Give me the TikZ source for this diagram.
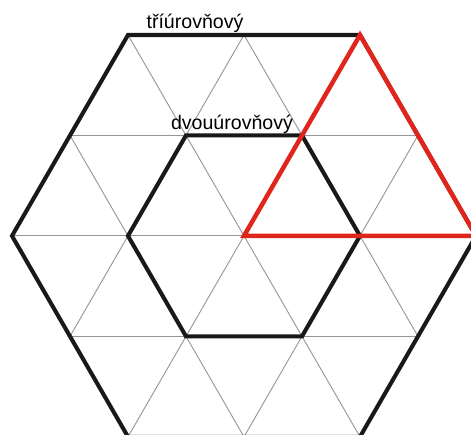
\documentclass[tikz,border=0pt]{standalone}
\usepackage{fontspec}
\setmainfont{Liberation Sans}
\usetikzlibrary{calc}
\definecolor{trired}{RGB}{224,38,28}
\definecolor{gridgray}{RGB}{150,150,150}

\begin{document}
\begin{tikzpicture}[
  gridline/.style={draw=gridgray, line width=0.45pt},
  hexa/.style={draw=black!90, line width=2pt},
  tri/.style={draw=trired, line width=2.2pt},
  lbl/.style={font=\fontsize{9.6}{11}\selectfont, anchor=base, inner sep=0pt},
]
\clip (-4.207,-3.433) rectangle (3.914,4.067);
% corners: outer hexagon (A) and inner hexagon (B)
\coordinate (o) at (0,0);
\foreach \a in {0,60,...,300} {
  \coordinate (A\a) at (\a:4);
  \coordinate (B\a) at (\a:2);
}
% thin triangle grid
\begin{scope}
  \clip (A0) -- (A60) -- (A120) -- (A180) -- (A240) -- (A300) -- cycle;
  \foreach \k in {-2,...,2}
    \draw[gridline] (-5,{\k*1.732}) -- (5,{\k*1.732});
  \foreach \j in {-4,...,4} {
    \draw[gridline] (2*\j,0) ++(-120:5) -- ++(60:10);
    \draw[gridline] (2*\j,0) ++(-60:5) -- ++(120:10);
  }
\end{scope}
\draw[hexa] (A0) -- (A60) -- (A120) -- (A180) -- (A240) -- (A300) -- cycle;
\draw[hexa] (B0) -- (B60) -- (B120) -- (B180) -- (B240) -- (B300) -- cycle;
\draw[tri] (o) -- (A60) -- (A0) -- cycle;
\node[lbl] (three) at ($(A120)+(1.155,0.12)$) {tříúrovňový};
\node[lbl] (two) at ($(B120)+(0.793,0.094)$) {dvouúrovňový};
\end{tikzpicture}
\end{document}
